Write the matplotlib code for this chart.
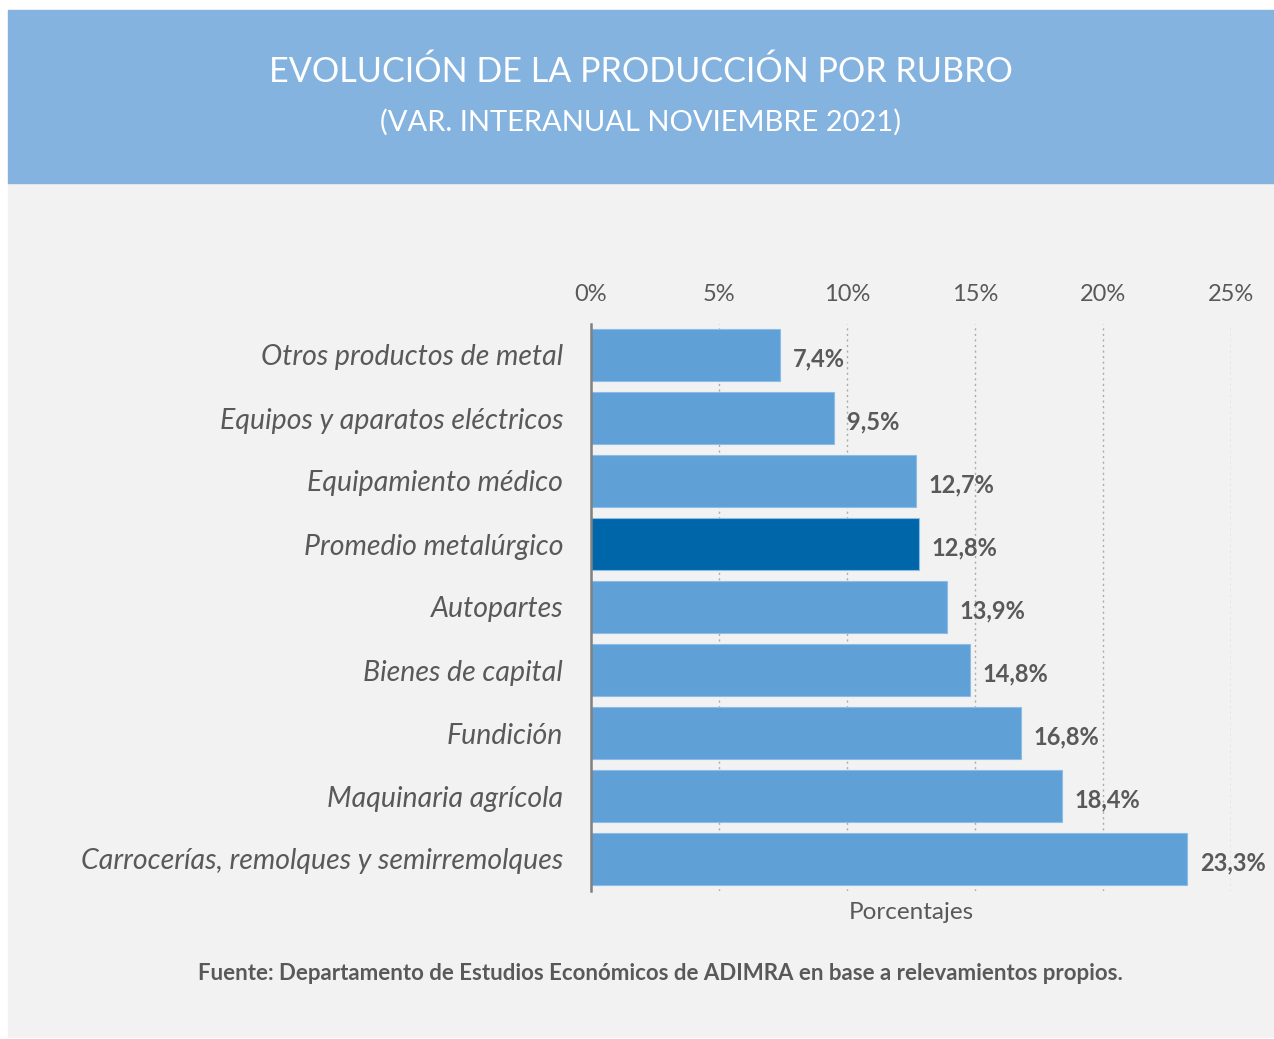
import numpy as np
import matplotlib.pyplot as plt
from matplotlib.patches import Rectangle

# data (top to bottom as shown)
rubros = ['Otros productos de metal', 'Equipos y aparatos eléctricos', 'Equipamiento médico',
          'Promedio metalúrgico', 'Autopartes', 'Bienes de capital', 'Fundición',
          'Maquinaria agrícola', 'Carrocerías, remolques y semirremolques']
variacion = [7.4, 9.5, 12.7, 12.8, 13.9, 14.8, 16.8, 18.4, 23.3]
etiquetas = ['7,4%', '9,5%', '12,7%', '12,8%', '13,9%', '14,8%', '16,8%', '18,4%', '23,3%']
ticks = [0, 5, 10, 15, 20, 25]

plt.rcParams['font.family'] = ['Lato', 'DejaVu Sans']
gris = '#595959'

W, H = 1274, 1039
fig = plt.figure(figsize=(W / 100, H / 100), dpi=100, facecolor='white')

# panel backgrounds
fig.patches.append(Rectangle((8 / W, 1 - 1037 / H), 1 - 8 / W, (1037 - 183) / H,
                             transform=fig.transFigure, color='#F2F2F2', zorder=-10))
fig.patches.append(Rectangle((8 / W, 1 - 183 / H), 1 - 8 / W, 173 / H,
                             transform=fig.transFigure, color='#85B3E0', zorder=-10))

fig.text(641 / W, 1 - 72 / H, 'EVOLUCIÓN DE LA PRODUCCIÓN POR RUBRO', color='white',
         fontsize=24.6, ha='center', va='center')
fig.text(641 / W, 1 - 122 / H, '(VAR. INTERANUAL NOVIEMBRE 2021)', color='white',
         fontsize=21, ha='center', va='center')

ax = fig.add_axes([591 / W, 1 - 890.5 / H, 640 / W, 567 / H])
ax.set_facecolor('none')

y = np.arange(len(rubros))
colores = ['#0066AA' if r == 'Promedio metalúrgico' else '#5FA0D7' for r in rubros]
ax.barh(y, variacion, height=0.81, color=colores, edgecolor='#8DBDE6', linewidth=0.8, zorder=3)

for yi, v, t in zip(y, variacion, etiquetas):
    ax.annotate(t, (v, yi), xytext=(9, -3), textcoords='offset points', ha='left', va='center',
                fontsize=17, fontweight='bold', color=gris)

ax.set_xlim(0, 25)
ax.set_ylim(len(rubros) - 0.5, -0.5)
ax.set_xticks(ticks)
ax.set_xticklabels([f'{t}%' for t in ticks])
ax.xaxis.tick_top()
ax.tick_params(axis='x', length=0, pad=13, labelsize=17, labelcolor=gris)
ax.set_yticks(y)
ax.set_yticklabels(rubros, fontsize=20.5, fontstyle='italic', color=gris)
ax.tick_params(axis='y', length=0, pad=20)

ax.grid(axis='x', linestyle=(0, (1.5, 2.5)), color='#ABABAB', linewidth=1, zorder=1)
for s in ['top', 'right', 'bottom']:
    ax.spines[s].set_visible(False)
ax.spines['left'].set_color('#808080')
ax.spines['left'].set_linewidth(1.8)
ax.spines['left'].set_zorder(4)

ax.set_xlabel('Porcentajes', fontsize=17.5, color=gris, labelpad=8)

fig.text(660 / W, 1 - 973 / H,
         'Fuente: Departamento de Estudios Económicos de ADIMRA en base a relevamientos propios.',
         fontsize=16, fontweight='bold', color=gris, ha='center', va='center')

fig.savefig('out.png', dpi=100, facecolor='white')
